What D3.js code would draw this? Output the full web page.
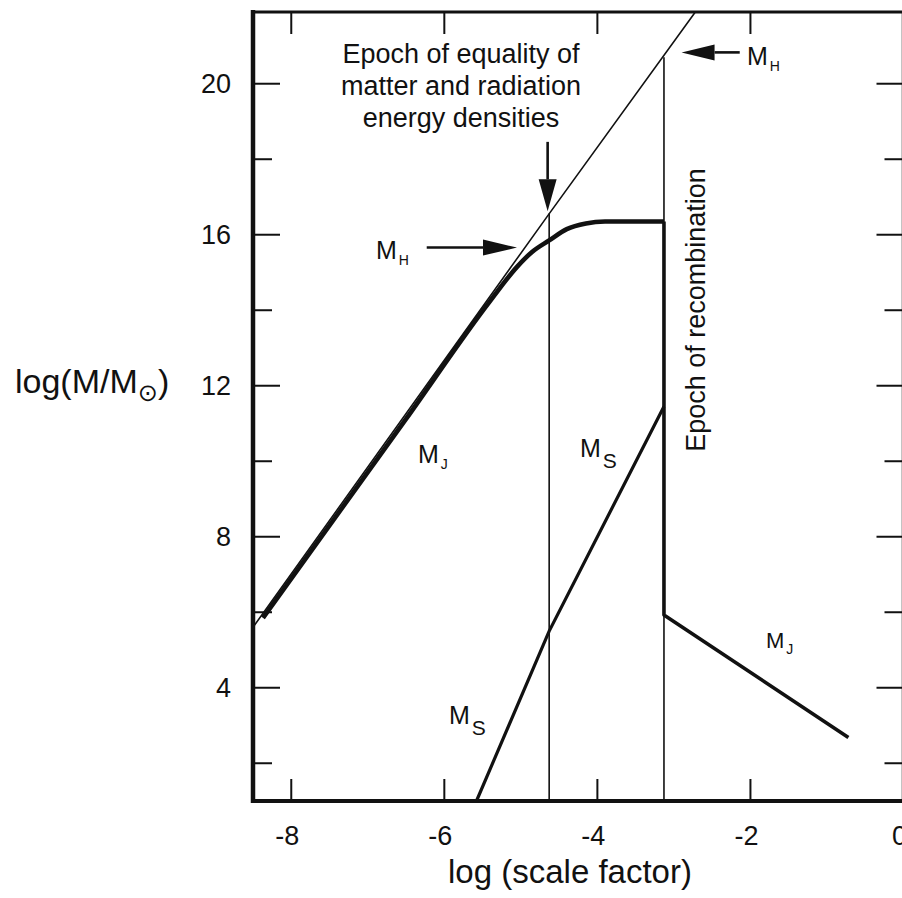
<!DOCTYPE html>
<html><head><meta charset="utf-8">
<script src="https://cdn.jsdelivr.net/npm/d3@7"></script>
<style>
html,body{margin:0;padding:0;background:#fff;}
svg{display:block;}
text{font-family:"Liberation Sans",Arial,Helvetica,sans-serif;fill:#111;}
</style></head>
<body>
<svg id="c" width="902" height="898"></svg>
<script>
// ---- data ----
const xTicks = [-8, -6, -4, -2, 0];
const yMajorTicks = [4, 8, 12, 16, 20];
const yMinorTicks = [2, 6, 10, 14, 18];
// horizon mass (thin straight line)
const horizonX = [-8.5, -4.65, -2.72];
const horizonY = [5.6, 16.5, 21.9];
// Jeans mass before recombination (thick curve)
const jeansEarlyX = [-8.37, -6.5, -5.4, -5.05, -4.85, -4.63, -4.4, -4.15, -3.9, -3.13];
const jeansEarlyY = [5.85, 11.12, 14.25, 15.15, 15.55, 15.85, 16.15, 16.3, 16.35, 16.35];
// Jeans mass drop at recombination and after
const jeansLateX = [-3.13, -3.13, -0.72];
const jeansLateY = [16.35, 5.93, 2.68];
// Silk mass
const silkX = [-5.58, -4.63, -3.13];
const silkY = [1.0, 5.5, 11.45];
// epochs: equality and recombination (vertical lines)
const epochX = [-4.63, -3.13];
const epochTopY = [16.56, 20.7];

// ---- scales ----
const svg = d3.select("#c");
const x = d3.scaleLinear().domain([-8.5, 0]).range([253, 903.5]);
const y = d3.scaleLinear().domain([1, 21.9]).range([801, 12]);
const [x0, x1] = x.range(), [y0, y1] = y.range();

const zip = (xs, ys) => xs.map((v, i) => [v, ys[i]]);
const lin = d3.line().x(d => x(d[0])).y(d => y(d[1]));
const smooth = d3.line().x(d => x(d[0])).y(d => y(d[1])).curve(d3.curveMonotoneX);

const g = svg.append("g");

// thin lines
g.append("path").attr("d", lin(zip(horizonX, horizonY)))
  .attr("fill", "none").attr("stroke", "#111").attr("stroke-width", 1.6);
epochX.forEach((ex, i) => {
  g.append("line").attr("x1", x(ex)).attr("x2", x(ex))
    .attr("y1", y(epochTopY[i])).attr("y2", y(1))
    .attr("stroke", "#111").attr("stroke-width", 1.6);
});
// thick curves
g.append("path").attr("d", smooth(zip(jeansEarlyX, jeansEarlyY)))
  .attr("fill", "none").attr("stroke", "#111").attr("stroke-width", 4.6)
  .attr("stroke-linejoin", "round");
g.append("path").attr("d", lin(zip(jeansLateX, jeansLateY)))
  .attr("fill", "none").attr("stroke", "#111").attr("stroke-width", 3.6)
  .attr("stroke-linejoin", "round");
g.append("path").attr("d", lin(zip(silkX, silkY)))
  .attr("fill", "none").attr("stroke", "#111").attr("stroke-width", 3.2);

// ---- axes (box with inward ticks) ----
const ax = svg.append("g");
xTicks.forEach(t => {
  ax.append("line").attr("x1", x(t)).attr("x2", x(t)).attr("y1", y0).attr("y2", y0 - 22)
    .attr("stroke", "#111").attr("stroke-width", 2);
  ax.append("line").attr("x1", x(t)).attr("x2", x(t)).attr("y1", y1).attr("y2", y1 + 22)
    .attr("stroke", "#111").attr("stroke-width", 2);
});
yMajorTicks.forEach(t => {
  ax.append("line").attr("x1", x0).attr("x2", x0 + 27).attr("y1", y(t)).attr("y2", y(t))
    .attr("stroke", "#111").attr("stroke-width", 2);
  ax.append("line").attr("x1", x1).attr("x2", x1 - 27).attr("y1", y(t)).attr("y2", y(t))
    .attr("stroke", "#111").attr("stroke-width", 2);
});
yMinorTicks.forEach(t => {
  ax.append("line").attr("x1", x0).attr("x2", x0 + 19).attr("y1", y(t)).attr("y2", y(t))
    .attr("stroke", "#111").attr("stroke-width", 2);
  ax.append("line").attr("x1", x1).attr("x2", x1 - 19).attr("y1", y(t)).attr("y2", y(t))
    .attr("stroke", "#111").attr("stroke-width", 2);
});
// frame
ax.append("line").attr("x1", x0).attr("x2", x0).attr("y1", y1 - 2).attr("y2", y0 + 2)
  .attr("stroke", "#111").attr("stroke-width", 4.5);
ax.append("line").attr("x1", x1).attr("x2", x1).attr("y1", y1).attr("y2", y0)
  .attr("stroke", "#111").attr("stroke-width", 3.5);
ax.append("line").attr("x1", x0).attr("x2", x1).attr("y1", y0).attr("y2", y0)
  .attr("stroke", "#111").attr("stroke-width", 4);
ax.append("line").attr("x1", x0).attr("x2", x1).attr("y1", y1).attr("y2", y1)
  .attr("stroke", "#111").attr("stroke-width", 3);

// tick labels
xTicks.forEach(t => {
  ax.append("text").attr("x", x(t) - 4).attr("y", 845).attr("text-anchor", "middle")
    .attr("font-size", 27).text(t);
});
yMajorTicks.forEach(t => {
  ax.append("text").attr("x", 231).attr("y", y(t)).attr("dy", "0.36em").attr("text-anchor", "end")
    .attr("font-size", 27).text(t);
});

// axis titles
svg.append("text").attr("x", 570).attr("y", 883).attr("text-anchor", "middle")
  .attr("font-size", 33).text("log (scale factor)");
const yt = svg.append("text").attr("x", 15).attr("y", 393).attr("font-size", 34);
yt.append("tspan").text("log(M/M");
yt.append("tspan").attr("font-size", 24).attr("dy", 8).attr("style", "font-family:'DejaVu Sans'").text("\u2299");
yt.append("tspan").attr("dy", -8).text(")");

// ---- annotations ----
function arrow(xa, ya, xb, yb, head, half) {
  const dx = xb - xa, dy = yb - ya, L = Math.hypot(dx, dy);
  const ux = dx / L, uy = dy / L;
  const bx = xb - ux * head, by = yb - uy * head;
  svg.append("line").attr("x1", xa).attr("y1", ya).attr("x2", bx).attr("y2", by)
    .attr("stroke", "#111").attr("stroke-width", 2.6);
  svg.append("path").attr("d",
    `M${xb},${yb}L${bx - uy * half},${by + ux * half}L${bx + uy * half},${by - ux * half}Z`)
    .attr("fill", "#111");
}
const eqText = ["Epoch of equality of", "matter and radiation", "energy densities"];
eqText.forEach((s, i) => {
  svg.append("text").attr("x", 461).attr("y", 63 + i * 32).attr("text-anchor", "middle")
    .attr("font-size", 27).text(s);
});
arrow(x(-4.65), y(18.46), x(-4.65), y(16.62), 32, 9);
arrow(x(-6.23), y(15.66), x(-5.05), y(15.66), 34, 8);
arrow(x(-2.14), y(20.83), x(-2.90), y(20.83), 33, 8);

function label(px, py, main, sub, subSize, subDy, fs) {
  const t = svg.append("text").attr("x", px).attr("y", py).attr("font-size", fs || 25);
  t.append("tspan").text(main);
  t.append("tspan").attr("font-size", subSize).attr("dy", subDy).attr("dx", 2).text(sub);
}
label(376, 259, "M", "H", 14, 6);
label(747, 65, "M", "H", 14, 6);
label(418, 463, "M", "J", 14, 6);
label(580, 457, "M", "S", 21, 11);
label(449, 724, "M", "S", 21, 11);
label(766, 648, "M", "J", 14, 6, 22);

svg.append("text").attr("transform", `translate(705,310) rotate(-90)`)
  .attr("text-anchor", "middle").attr("font-size", 27).text("Epoch of recombination");
</script>
</body></html>
